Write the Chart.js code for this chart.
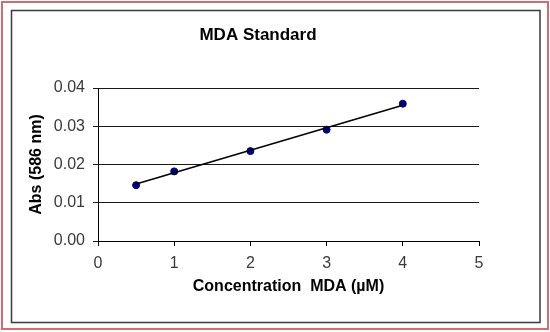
<!DOCTYPE html>
<html>
<head>
<meta charset="utf-8">
<script src="https://cdn.jsdelivr.net/npm/chart.js@4"></script>
<style>
  html, body { margin: 0; padding: 0; background: #fff; }
  canvas { display: block; }
</style>
</head>
<body>
<canvas id="c" width="550" height="332"></canvas>
<script>
// Data
const concentrations = [0.5, 1, 2, 3, 4];
const absorbance = [0.0146, 0.0182, 0.0235, 0.0291, 0.0359];
const trendX = [0.5, 4];
const trendY = [0.0149, 0.0355];
const xTicks = [0, 1, 2, 3, 4, 5];
const yTicks = [0.00, 0.01, 0.02, 0.03, 0.04];
const chartTitle = 'MDA Standard';
const xTitle = 'Concentration  MDA (µM)';
const yTitle = 'Abs (586 nm)';

const FONT = "'Liberation Sans', Arial, sans-serif";

const framePlugin = {
  id: 'frame',
  beforeDraw(chart) {
    const ctx = chart.ctx;
    ctx.save();
    ctx.fillStyle = '#ffffff';
    ctx.fillRect(0, 0, chart.width, chart.height);
    ctx.strokeStyle = '#d46a72';
    ctx.lineWidth = 2;
    ctx.strokeRect(2, 2, 546, 327);
    ctx.strokeStyle = '#3a3a3a';
    ctx.lineWidth = 1.5;
    ctx.strokeRect(11.5, 10.5, 528.5, 312);
    ctx.restore();
  }
};

new Chart(document.getElementById('c'), {
  type: 'scatter',
  data: {
    datasets: [
      {
        type: 'line',
        label: 'Trend',
        data: trendX.map((x, i) => ({ x: x, y: trendY[i] })),
        borderColor: '#000000',
        borderWidth: 1.5,
        pointRadius: 0,
        fill: false,
        order: 0
      },
      {
        label: 'MDA',
        data: concentrations.map((x, i) => ({ x: x, y: absorbance[i] })),
        backgroundColor: '#00007a',
        borderColor: '#00007a',
        pointStyle: 'circle',
        pointRadius: 3.5,
        order: 1
      }
    ]
  },
  options: {
    responsive: false,
    animation: false,
    devicePixelRatio: 1,
    layout: { padding: { left: 37, right: 71, top: 10, bottom: 20 } },
    plugins: {
      legend: { display: false },
      tooltip: { enabled: false },
      title: {
        display: true,
        text: chartTitle,
        color: '#000',
        font: { family: FONT, size: 17, weight: 'bold' },
        padding: { top: 15.5, bottom: 42.1 }
      }
    },
    scales: {
      x: {
        type: 'linear',
        min: 0,
        max: 5,
        afterFit(s) { s.height = 71; },
        afterBuildTicks(s) { s.ticks = xTicks.map(v => ({ value: v })); },
        ticks: {
          stepSize: 1,
          color: '#3a3a3a',
          padding: 8,
          font: { family: FONT, size: 16 },
          callback: v => String(v)
        },
        grid: { display: true, drawOnChartArea: false, drawTicks: true, tickLength: 5, color: '#000' },
        border: { display: true, color: '#000', width: 1 },
        title: {
          display: true,
          text: xTitle,
          color: '#000',
          font: { family: FONT, size: 16, weight: 'bold' },
          padding: { top: 0, bottom: 15.4 }
        }
      },
      y: {
        type: 'linear',
        min: 0,
        max: 0.04,
        afterFit(s) { s.width = 61; },
        afterBuildTicks(s) { s.ticks = yTicks.map(v => ({ value: v })); },
        ticks: {
          stepSize: 0.01,
          color: '#3a3a3a',
          padding: 8,
          font: { family: FONT, size: 16 },
          callback: v => Number(v).toFixed(2)
        },
        grid: { display: true, drawOnChartArea: true, drawTicks: true, tickLength: 5, color: '#1a1a1a', lineWidth: 1 },
        border: { display: true, color: '#000', width: 1 },
        title: {
          display: true,
          text: yTitle,
          color: '#000',
          font: { family: FONT, size: 16, weight: 'bold' },
          padding: { top: -10, bottom: 0 }
        }
      }
    }
  },
  plugins: [framePlugin]
});
</script>
</body>
</html>
